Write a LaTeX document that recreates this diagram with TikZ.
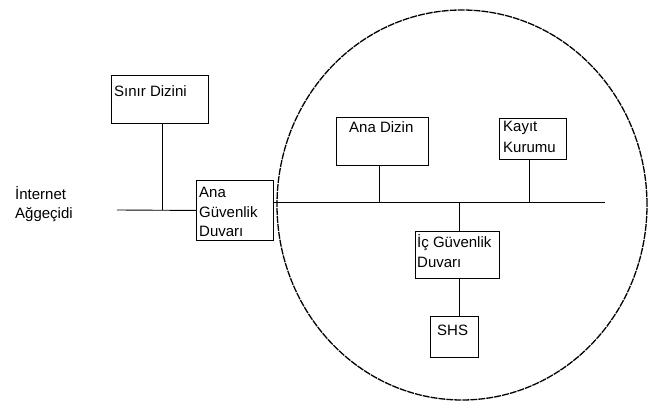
\documentclass[tikz,border=0pt]{standalone}
\usepackage{fontspec}
\setmainfont{Liberation Sans}
\usetikzlibrary{shapes.geometric}
\begin{document}
\begin{tikzpicture}[x=1pt,y=-1pt,
  box/.style={draw, line width=0.9pt, inner sep=0pt, anchor=north west},
  txt/.style={anchor=base west, inner sep=0pt, font=\fontsize{15}{19}\selectfont},
  wire/.style={line width=0.9pt},
  zone/.style={draw, ellipse, line width=1.3pt, dash pattern=on 7pt off 1pt, inner sep=0pt}]
\useasboundingbox (0,0) rectangle (648,403);

% protected zone
\node[zone, minimum width=370pt, minimum height=390pt] (ring) at (462,205) {};

% boxes
\node[box, minimum width=97pt, minimum height=48pt] (sinir) at (111,75) {};
\node[box, minimum width=77pt, minimum height=60pt] (anafw) at (196,180) {};
\node[box, minimum width=92pt, minimum height=48pt] (anadizin) at (336,117) {};
\node[box, minimum width=67pt, minimum height=41pt] (kayit) at (499,118) {};
\node[box, minimum width=84pt, minimum height=47pt] (icfw) at (415,231) {};
\node[box, minimum width=48pt, minimum height=41pt] (shs) at (430,316) {};

% labels
\node[txt] (tsinir) at (114,97) {Sınır Dizini};
\node[txt] (tnet1) at (15,200) {İnternet};
\node[txt] (tnet2) at (15,219) {Ağgeçidi};
\node[txt] (tana1) at (199,198) {Ana};
\node[txt] (tana2) at (199,218) {Güvenlik};
\node[txt] (tana3) at (199,237) {Duvarı};
\node[txt] (tdizin) at (349,133) {Ana Dizin};
\node[txt] (tkayit1) at (503,132) {Kayıt};
\node[txt] (tkayit2) at (503,153) {Kurumu};
\node[txt] (tic1) at (417,248) {İç Güvenlik};
\node[txt] (tic2) at (417,268) {Duvarı};
\node[txt] (tshs) at (437,335) {SHS};

% bus ends
\coordinate (busW) at (117,210);
\coordinate (busE) at (605,202);

% connectors
\draw[wire] (busW) -- (anafw.west);
\draw[wire] ([xshift=2pt]sinir.south) -- ([xshift=2pt]sinir.south |- busW);
\draw[wire] (anafw.east |- busE) -- (busE);
\draw[wire] ([xshift=-3pt]anadizin.south) -- ([xshift=-3pt]anadizin.south |- busE);
\draw[wire] ([xshift=-4pt]kayit.south) -- ([xshift=-4pt]kayit.south |- busE);
\draw[wire] ([xshift=2pt]icfw.north |- busE) -- ([xshift=2pt]icfw.north);
\draw[wire] ([xshift=2pt]icfw.south) -- ([xshift=2pt]icfw.south |- shs.north);
\end{tikzpicture}
\end{document}
